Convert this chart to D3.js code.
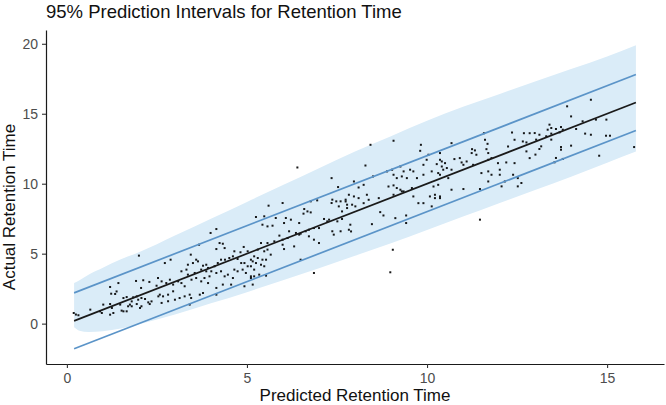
<!DOCTYPE html>
<html>
<head>
<meta charset="utf-8">
<script src="https://cdn.jsdelivr.net/npm/d3@7"></script>
<style>
  body { margin: 0; background: #fff; }
  svg { display: block; }
  text { font-family: "Liberation Sans", Arial, sans-serif; }
</style>
</head>
<body>
<div id="chart"></div>
<script>
// fitted line and 95% interval lines (predicted -> actual)
const fitX = [0.2, 15.8];
const fitY = [0.2, 15.8];
const piLower = [-1.8, 13.8];
const piUpper = [2.2, 17.8];

// shaded band
const bandX = [0.2, 0.35, 0.6, 1.0, 1.5, 2, 3, 4, 5, 6, 7, 8, 9, 10, 11, 12, 13, 14, 15, 15.8];
const bandLow = [-0.25, -0.5, -0.6, -0.55, -0.35, -0.05, 0.65, 1.45, 2.25, 3.1, 3.95, 4.85, 5.75, 6.7, 7.65, 8.6, 9.55, 10.5, 11.5, 12.3];
const bandHigh = [2.9, 3.1, 3.5, 4.0, 4.6, 5.1, 6.3, 7.5, 8.7, 9.9, 11.1, 12.3, 13.4, 14.5, 15.5, 16.4, 17.3, 18.2, 19.1, 19.9];

// observed compounds [predicted, actual]
const obs = [
  [2.0,4.86],[1.2,2.62],[1.43,2.9],[1.23,2.14],[1.34,2.12],[1.92,3.05],[2.12,3.1],[2.29,2.98],[2.06,2.55],[2.49,2.71],
  [0.19,0.76],[0.32,0.6],[0.65,1.0],[0.97,0.76],[1.01,1.36],[1.2,1.4],[1.25,1.12],[1.48,1.36],[1.57,1.83],[1.66,1.9],
  [1.75,1.36],[1.8,1.24],[1.84,1.88],[1.94,1.95],[1.98,1.71],[2.07,1.83],[2.17,1.76],[2.26,1.52],[2.35,1.59],[2.03,1.12],
  [2.07,1.24],[1.2,0.64],[1.29,0.76],[1.57,0.88],[1.66,0.88],[1.8,1.59],[1.94,1.4],[2.3,1.4],[2.54,1.95],[0.92,0.88],
  [1.52,0.93],[1.7,1.24],[0.25,0.65],[1.38,2.3],
  [4.15,6.76],[3.99,6.48],[3.67,5.64],[4.24,5.76],[4.33,5.71],[4.15,5.33],[4.38,5.4],[4.65,5.17],[4.82,5.1],[4.91,5.48],
  [5.02,5.17],[3.44,4.93],[3.59,4.57],[2.72,4.33],[2.88,4.57],[3.36,4.21],[3.5,4.33],[3.64,4.45],[3.78,4.14],[3.87,4.21],
  [3.92,3.98],[4.1,4.1],[4.19,4.33],[4.28,4.57],[4.39,4.57],[4.51,4.69],[4.61,4.81],[4.74,4.62],[4.84,4.33],[4.93,4.33],
  [5.02,4.1],[5.11,4.57],[3.18,3.74],[3.32,3.86],[3.36,3.5],[3.55,3.62],[3.73,3.86],[3.87,3.74],[4.01,3.74],[4.15,3.62],
  [4.28,3.74],[4.38,3.38],[4.47,3.5],[4.61,3.26],[4.65,3.86],[4.74,3.74],[4.88,3.86],[4.97,3.62],[5.11,3.38],[2.53,3.26],
  [2.63,3.02],[2.76,2.9],[2.86,3.14],[2.95,2.79],[3.09,3.02],[3.18,2.9],[3.27,2.67],[3.46,3.14],[3.59,3.26],[3.73,3.02],
  [3.82,3.26],[3.92,2.9],[3.96,3.38],[4.15,2.55],[4.33,2.79],[4.56,2.79],[4.93,2.67],[5.2,3.38],[2.58,2.07],[2.67,1.95],
  [2.81,2.07],[2.95,2.31],[3.0,1.71],[3.13,1.83],[3.27,1.95],[3.41,2.07],[3.45,1.83],[3.69,2.07],[3.78,2.19],[2.63,1.48],
  [2.81,1.6],[3.41,1.36],[4.15,2.07],
  [7.35,10.4],[7.53,9.76],[7.37,8.86],[7.35,8.62],[7.48,8.74],[7.6,8.74],[7.74,8.86],[7.55,8.38],[7.64,8.02],[7.78,8.26],
  [5.6,8.43],[5.99,8.62],[6.77,8.74],[6.95,8.81],[6.59,8.19],[6.68,8.02],[6.77,7.95],[6.57,7.86],[5.48,7.67],[5.25,7.62],
  [5.8,7.55],[6.08,7.55],[6.22,7.43],[6.03,7.19],[5.43,7.07],[5.57,6.95],[5.71,7.0],[6.45,7.19],[7.14,7.48],[7.23,7.31],
  [7.28,7.43],[7.51,7.31],[7.64,7.48],[6.17,6.6],[6.36,6.48],[6.49,6.43],[6.63,6.6],[6.72,6.71],[6.86,6.83],[7.0,6.83],
  [7.37,6.6],[7.6,6.6],[7.83,6.71],[5.9,6.29],[5.99,6.0],[6.13,6.12],[6.45,6.36],[6.72,6.24],[6.86,6.0],[7.0,5.76],
  [7.41,6.36],[5.39,5.76],[5.57,5.76],[5.76,5.88],[5.99,5.64],[6.03,5.33],[6.31,5.52],[5.3,5.29],[5.48,5.17],[5.2,4.81],
  [5.3,4.69],[5.43,4.57],[5.53,4.57],[5.16,4.45],[5.25,4.33],[5.39,4.21],[5.48,4.1],[5.11,4.1],[5.2,3.86],[5.57,5.29],
  [5.66,4.93],[6.49,4.57],[6.86,3.62],[5.34,3.5],[5.53,3.43],[5.16,2.79],[5.11,3.26],[6.4,11.16],[8.98,3.67],
  [9.07,13.07],[8.43,12.78],[9.83,12.78],[9.81,12.35],[10.04,12.07],[9.99,11.71],[9.9,11.35],[10.27,11.4],[10.36,11.71],[10.41,11.23],
  [8.29,11.3],[8.89,10.88],[9.03,11.0],[9.26,11.23],[9.35,10.88],[9.53,11.0],[9.62,10.88],[9.07,10.64],[9.16,10.4],[9.3,10.52],
  [9.44,10.4],[9.72,10.4],[9.9,10.64],[10.13,10.88],[10.31,10.76],[8.5,10.52],[7.97,10.16],[8.1,9.73],[8.24,9.92],[8.93,9.8],
  [9.07,9.88],[9.16,9.69],[9.26,9.57],[9.35,9.45],[9.58,9.69],[10.18,9.8],[10.31,9.92],[7.83,9.21],[7.97,9.09],[8.1,8.97],
  [8.33,9.21],[8.24,8.61],[8.38,8.85],[8.66,8.97],[9.07,9.21],[9.3,9.45],[9.62,9.09],[10.08,9.09],[10.22,9.21],[10.36,8.97],
  [7.74,8.73],[7.78,8.5],[7.92,8.5],[8.01,8.38],[9.76,8.61],[9.9,8.61],[10.13,8.38],[10.22,8.97],[8.7,7.97],[8.79,7.73],
  [9.12,7.54],[9.42,7.73],[9.42,7.19],[7.87,7.07],[8.47,7.11],[7.89,6.59],[9.05,5.28],
  [11.58,13.61],[12.36,13.66],[12.69,13.61],[12.85,13.61],[12.43,13.14],[12.66,13.02],[12.76,12.95],[11.61,13.14],[11.68,12.85],[11.25,12.47],
  [11.33,12.38],[11.65,12.47],[11.7,12.19],[12.25,12.66],[12.76,12.31],[12.85,11.83],[10.68,12.9],[10.36,12.19],[11.24,12.19],[11.37,12.07],
  [10.76,11.76],[10.91,11.83],[10.96,11.52],[11.1,11.59],[11.28,11.35],[11.7,11.71],[11.79,11.83],[11.97,11.47],[12.2,11.52],[12.43,11.47],
  [10.41,11.59],[10.5,11.47],[10.55,11.12],[10.45,11.0],[10.68,11.0],[10.36,10.64],[10.59,10.4],[11.01,11.35],[11.51,10.76],[11.7,10.88],
  [11.79,10.64],[12.02,11.0],[12.02,10.64],[12.39,10.64],[12.52,10.4],[12.62,10.05],[11.7,10.16],[12.16,10.16],[12.07,9.81],[12.52,9.81],
  [10.68,9.57],[11.01,9.62],[11.47,9.62],[10.36,9.09],[11.47,7.43],
  [14.55,16.0],[13.89,15.53],[14.0,14.81],[14.32,14.46],[14.69,14.58],[14.98,14.58],[13.4,14.22],[13.45,13.98],[13.35,13.86],[13.58,13.91],
  [13.72,14.05],[13.77,13.86],[14.14,13.91],[12.99,13.62],[13.12,13.5],[13.31,13.39],[13.45,13.58],[13.68,13.67],[14.39,13.58],[14.55,13.5],
  [14.97,13.43],[15.08,13.43],[13.03,13.15],[13.17,12.67],[13.12,12.48],[13.45,13.15],[13.72,12.62],[13.72,12.43],[14.0,12.72],[13.01,12.08],
  [13.58,11.84],[13.77,11.77],[13.54,11.53],[14.78,12.0],[15.75,12.62]
];

const xTicks = [0, 5, 10, 15];
const yTicks = [0, 5, 10, 15, 20];

const width = 666, height = 405;

const svg = d3.select('#chart')
  .append('svg')
  .attr('width', width)
  .attr('height', height);

// scales (ggplot-style 5% expansion)
const x = d3.scaleLinear().domain([-0.58, 16.58]).range([46, 664]);
const y = d3.scaleLinear().domain([-2.885, 20.985]).range([364, 30]);

// band
const band = bandX.map((v, i) => ({ x: v, lo: bandLow[i], hi: bandHigh[i] }));
svg.append('path')
  .datum(band)
  .attr('fill', '#daecf8')
  .attr('d', d3.area()
    .x(d => x(d.x))
    .y0(d => y(d.lo))
    .y1(d => y(d.hi))
    .curve(d3.curveMonotoneX));

// points
svg.append('g')
  .selectAll('rect')
  .data(obs)
  .enter().append('rect')
  .attr('x', d => x(d[0]) - 1)
  .attr('y', d => y(d[1]) - 1)
  .attr('width', 2)
  .attr('height', 2)
  .attr('fill', '#000')
  .attr('opacity', 0.9);

// lines
const line = d3.line().x(d => x(d[0])).y(d => y(d[1]));
const drawLine = (ys, color) => {
  svg.append('path')
    .datum(fitX.map((v, i) => [v, ys[i]]))
    .attr('fill', 'none')
    .attr('stroke', color)
    .attr('stroke-width', 1.7)
    .attr('d', line);
};
drawLine(piUpper, '#5b94c8');
drawLine(piLower, '#5b94c8');
drawLine(fitY, '#1a1a1a');

// axes
const xAxis = svg.append('g')
  .attr('transform', 'translate(0,364)')
  .call(d3.axisBottom(x).tickValues(xTicks).tickSize(4).tickSizeOuter(0).tickPadding(5));
const yAxis = svg.append('g')
  .attr('transform', 'translate(46,0)')
  .call(d3.axisLeft(y).tickValues(yTicks).tickSize(4).tickSizeOuter(0).tickPadding(4));

[xAxis, yAxis].forEach(a => {
  a.select('.domain').attr('stroke', '#1a1a1a').attr('stroke-width', 1.2);
  a.selectAll('.tick line').attr('stroke', '#333').attr('stroke-width', 1.1);
  a.selectAll('.tick text')
    .attr('fill', '#4d4d4d')
    .style('font-size', '14px')
    .style('font-family', '"Liberation Sans", Arial, sans-serif');
});

// titles
svg.append('text')
  .attr('x', 46)
  .attr('y', 18)
  .attr('font-size', '18.5px')
  .attr('fill', '#111')
  .text('95% Prediction Intervals for Retention Time');

svg.append('text')
  .attr('x', 355)
  .attr('y', 401)
  .attr('text-anchor', 'middle')
  .attr('font-size', '17px')
  .attr('fill', '#111')
  .text('Predicted Retention Time');

svg.append('text')
  .attr('transform', 'translate(15,207) rotate(-90)')
  .attr('text-anchor', 'middle')
  .attr('font-size', '17px')
  .attr('fill', '#111')
  .text('Actual Retention Time');
</script>
</body>
</html>
